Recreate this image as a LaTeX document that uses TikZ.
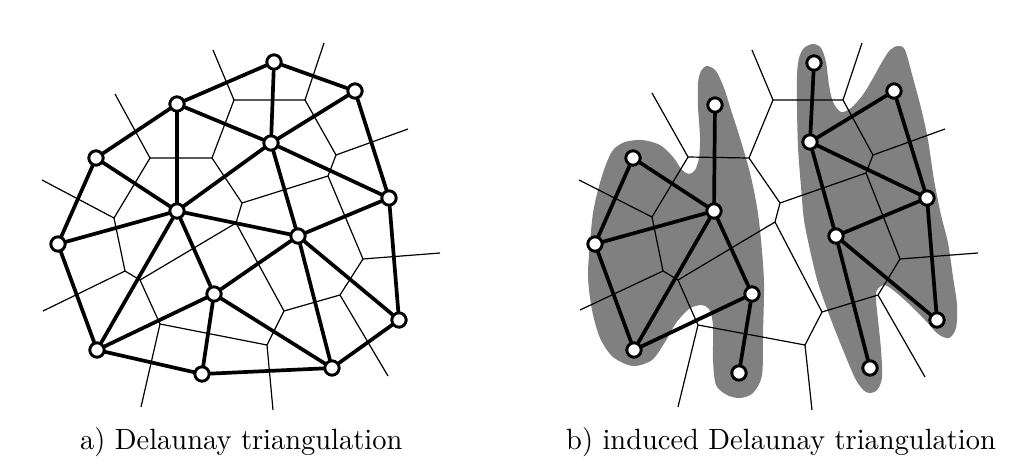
\documentclass[tikz,border=0pt]{standalone}
\begin{document}
\begin{tikzpicture}[x=1pt,y=-1pt,
  vor/.style={line width=1.2pt},
  del/.style={line width=3.7pt,line cap=round},
  pt/.style={circle,draw,fill=white,line width=2.8pt,minimum size=14.2pt,inner sep=0pt},
  blob/.style={fill=black!50,draw=none},
  captxt/.style={anchor=base west,inner sep=0pt}]
\useasboundingbox (0,0) rectangle (1024,471);

% ---------- gray regions (panel b) ----------
\fill[blob] plot[smooth cycle,tension=0.5] coordinates {
 (707,66) (716,71) (724,88) (731,110) (740,138) (750,173) (757,207) (761,240)
 (764,283) (763,333) (762,375) (753,393) (740,398) (727,395) (716,385) (713,360)
 (713,325) (709,309) (701,305) (689,309) (676,323) (665,342) (652,360) (633,366)
 (613,357) (600,338) (592,310) (588,277) (590,243) (593,213) (598,190) (605,167)
 (613,150) (625,142) (642,140) (660,145) (673,157) (682,170) (689,174) (695,170)
 (699,158) (700,137) (698,107) (698,83) (701,71)};
\fill[blob] plot[smooth cycle,tension=0.5] coordinates {
 (813,44) (821,48) (826,62) (829,85) (833,102) (841,112) (851,108) (862,96)
 (872,80) (882,62) (890,50) (898,46) (905,50) (913,78) (921,108) (928,140)
 (934,180) (941,215) (948,243) (953,277) (957,305) (956,328) (949,338) (938,334)
 (925,320) (908,303) (893,290) (884,285) (877,290) (876,300) (878,320) (881,350)
 (882,378) (876,391) (866,392) (856,380) (843,350) (830,317) (818,283) (810,250)
 (804,220) (801,187) (798,147) (797,107) (797,75) (799,58) (804,48)};

% ---------- Voronoi, panel a ----------
\coordinate (v1) at (234,100);  \coordinate (v2) at (305,100);
\coordinate (v3) at (150,158);  \coordinate (v4) at (212,158);
\coordinate (v5) at (336,155);  \coordinate (v6) at (114,218);
\coordinate (v7) at (242,203);  \coordinate (v8) at (328,176);
\coordinate (v9) at (125,271);  \coordinate (v10) at (140,280);
\coordinate (v11) at (236,223); \coordinate (v12) at (363,259);
\coordinate (v13) at (284,311); \coordinate (v14) at (340,295);
\coordinate (v15) at (160,324); \coordinate (v16) at (267,345);
\coordinate (e1) at (213,50);   \coordinate (e2) at (324,43);
\coordinate (e5) at (408,129);  \coordinate (e12) at (440,253);
\coordinate (e14) at (388,376); \coordinate (e16) at (273,410);
\coordinate (e15) at (141,407); \coordinate (e9) at (43,311);
\coordinate (e6) at (42,180);   \coordinate (e3) at (115,94);
\draw[vor] (v1)--(v2) (v1)--(v4) (v3)--(v4) (v3)--(v6) (v4)--(v7)
  (v2)--(v5) (v5)--(v8) (v7)--(v8) (v6)--(v9) (v9)--(v10) (v10)--(v11)
  (v7)--(v11) (v8)--(v12) (v11)--(v13) (v12)--(v14) (v13)--(v14)
  (v10)--(v15) (v15)--(v16) (v13)--(v16);
\draw[vor] (v1)--(e1) (v2)--(e2) (v5)--(e5) (v12)--(e12) (v14)--(e14)
  (v16)--(e16) (v15)--(e15) (v9)--(e9) (v6)--(e6) (v3)--(e3);

% ---------- Voronoi, panel b ----------
\coordinate (r1) at (773,100);  \coordinate (r2) at (843,100);
\coordinate (r3) at (749,158);  \coordinate (r4) at (873,155);
\coordinate (r5) at (866,173);  \coordinate (r6) at (780,203);
\coordinate (r7) at (900,259);  \coordinate (r8) at (775,222);
\coordinate (r9) at (688,157);  \coordinate (r10) at (652,217);
\coordinate (r11) at (663,271); \coordinate (r12) at (678,280);
\coordinate (r13) at (698,325); \coordinate (r14) at (805,345);
\coordinate (r15) at (822,312); \coordinate (r16) at (878,295);
\coordinate (f1) at (752,50);   \coordinate (f2) at (862,43);
\coordinate (f4) at (945,129);  \coordinate (f7) at (978,253);
\coordinate (f16) at (925,377); \coordinate (f14) at (812,410);
\coordinate (f13) at (678,407); \coordinate (f11) at (580,310);
\coordinate (f10) at (579,180); \coordinate (f9) at (652,93);
\draw[vor] (r1)--(r2) (r1)--(r3) (r2)--(r4) (r4)--(r5) (r5)--(r6)
  (r5)--(r7) (r3)--(r6) (r3)--(r9) (r6)--(r8) (r9)--(r10) (r10)--(r11)
  (r11)--(r12) (r12)--(r8) (r12)--(r13) (r13)--(r14) (r14)--(r15)
  (r15)--(r8) (r15)--(r16) (r16)--(r7);
\draw[vor] (r1)--(f1) (r2)--(f2) (r4)--(f4) (r7)--(f7) (r16)--(f16)
  (r14)--(f14) (r13)--(f13) (r11)--(f11) (r10)--(f10) (r9)--(f9);

% ---------- points, panel a ----------
\node[pt] (a1) at (274,62) {};   \node[pt] (a2) at (177,104) {};
\node[pt] (a3) at (355,91) {};   \node[pt] (a4) at (96,158) {};
\node[pt] (a5) at (271,143) {};  \node[pt] (a6) at (177,211) {};
\node[pt] (a7) at (389,198) {};  \node[pt] (a8) at (58,244) {};
\node[pt] (a9) at (298,236) {};  \node[pt] (a10) at (214,294) {};
\node[pt] (a11) at (399,320) {}; \node[pt] (a12) at (97,350) {};
\node[pt] (a13) at (202,374) {}; \node[pt] (a14) at (332,368) {};
\draw[del] (a1)--(a2) (a1)--(a3) (a1)--(a5) (a2)--(a4) (a2)--(a5) (a2)--(a6)
  (a3)--(a5) (a3)--(a7) (a4)--(a6) (a4)--(a8) (a5)--(a6) (a5)--(a9) (a5)--(a7)
  (a6)--(a8) (a6)--(a12) (a6)--(a10) (a6)--(a9) (a7)--(a9) (a7)--(a11)
  (a8)--(a12) (a9)--(a10) (a9)--(a14) (a9)--(a11) (a10)--(a12) (a10)--(a13)
  (a10)--(a14) (a11)--(a14) (a12)--(a13) (a13)--(a14);

% ---------- points, panel b ----------
\node[pt] (b1) at (633,158) {};  \node[pt] (b2) at (715,105) {};
\node[pt] (b3) at (714,211) {};  \node[pt] (b4) at (595,244) {};
\node[pt] (b5) at (752,294) {};  \node[pt] (b6) at (634,350) {};
\node[pt] (b7) at (739,373) {};
\node[pt] (c1) at (814,63) {};   \node[pt] (c2) at (894,91) {};
\node[pt] (c3) at (810,142) {};  \node[pt] (c4) at (927,198) {};
\node[pt] (c5) at (836,236) {};  \node[pt] (c6) at (937,320) {};
\node[pt] (c7) at (870,368) {};
\draw[del] (b1)--(b4) (b1)--(b3) (b2)--(b3) (b4)--(b3) (b4)--(b6) (b3)--(b6)
  (b3)--(b5) (b5)--(b6) (b5)--(b7);
\draw[del] (c1)--(c3) (c3)--(c2) (c2)--(c4) (c3)--(c4) (c3)--(c5) (c5)--(c4)
  (c4)--(c6) (c5)--(c6) (c5)--(c7);

% redraw points on top of the edges
\foreach \n in {a1,a2,a3,a4,a5,a6,a7,a8,a9,a10,a11,a12,a13,a14,
                b1,b2,b3,b4,b5,b6,b7,c1,c2,c3,c4,c5,c6,c7}
  \node[pt] at (\n) {};

% ---------- captions ----------
\node[captxt] (capa) at (80,449) {\scalebox{2.845}[2.93]{a) Delaunay triangulation}};
\node[captxt] (capb) at (566,449) {\scalebox{2.845}[2.93]{b) induced Delaunay triangulation}};
\end{tikzpicture}
\end{document}
